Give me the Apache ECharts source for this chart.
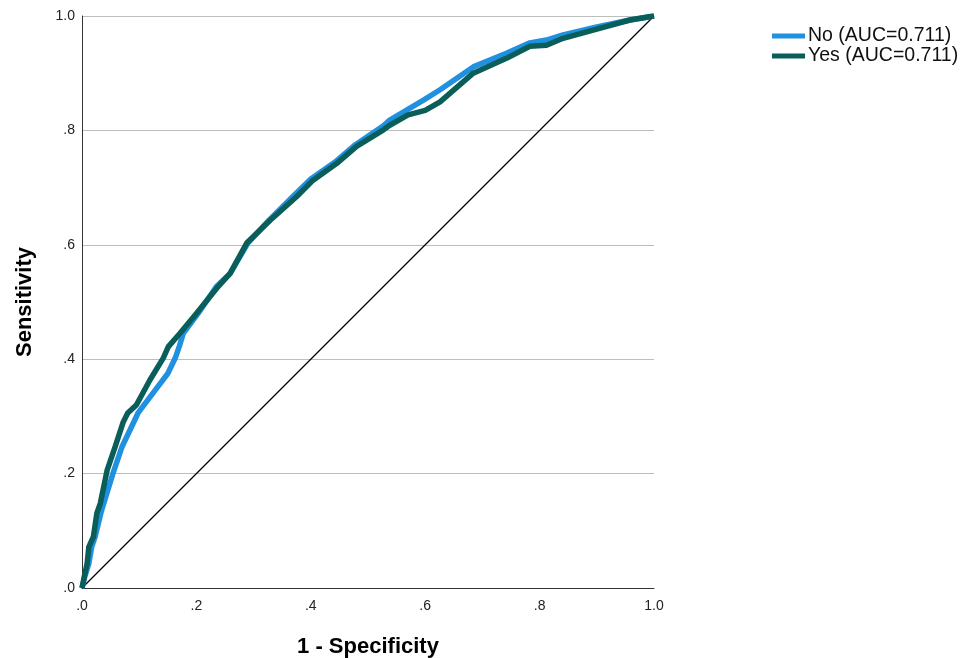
<!DOCTYPE html>
<html>
<head>
<meta charset="utf-8">
<script src="https://cdn.jsdelivr.net/npm/echarts@6/dist/echarts.min.js"></script>
<style>
  html, body { margin: 0; padding: 0; background: #fff; }
  #main { width: 960px; height: 658px; }
</style>
</head>
<body>
<div id="main"></div>
<script>
// ROC 曲线数据 [1 - specificity, sensitivity]
const noCurve = [
  [0, 0], [0.005, 0.02], [0.012, 0.043], [0.017, 0.072], [0.023, 0.090],
  [0.033, 0.131], [0.038, 0.148], [0.054, 0.200], [0.070, 0.247], [0.098, 0.306],
  [0.131, 0.350], [0.150, 0.375], [0.163, 0.402], [0.170, 0.422], [0.177, 0.445],
  [0.203, 0.480], [0.235, 0.527], [0.259, 0.550], [0.290, 0.603], [0.327, 0.643],
  [0.370, 0.686], [0.400, 0.715], [0.443, 0.745], [0.478, 0.775], [0.527, 0.808],
  [0.538, 0.818], [0.597, 0.853], [0.626, 0.871], [0.684, 0.911], [0.742, 0.935],
  [0.783, 0.953], [0.812, 0.958], [0.841, 0.967], [0.900, 0.981], [0.958, 0.993],
  [1, 1]
]
const yesCurve = [
  [0, 0], [0.004, 0.02], [0.009, 0.043], [0.012, 0.072], [0.020, 0.090],
  [0.026, 0.131], [0.032, 0.148], [0.044, 0.206], [0.058, 0.247], [0.072, 0.290],
  [0.080, 0.306], [0.095, 0.320], [0.119, 0.364], [0.142, 0.402], [0.151, 0.422],
  [0.171, 0.445], [0.200, 0.480], [0.238, 0.527], [0.259, 0.550], [0.288, 0.603],
  [0.329, 0.643], [0.375, 0.684], [0.404, 0.713], [0.445, 0.742], [0.480, 0.772],
  [0.527, 0.801], [0.538, 0.809], [0.570, 0.827], [0.600, 0.835], [0.626, 0.850],
  [0.684, 0.900], [0.742, 0.926], [0.783, 0.947], [0.812, 0.949], [0.841, 0.961],
  [0.900, 0.977], [0.958, 0.993], [1, 1]
]
const refLine = [[0, 0], [1, 1]]
const seriesNames = ['No (AUC=0.711)', 'Yes (AUC=0.711)']

const fmt = function (v) {
  if (Math.abs(v - 1) < 1e-9) return '1.0'
  return '.' + Math.round(v * 10)
}

const myChart = echarts.init(document.getElementById('main'))
const font = 'Liberation Sans, Arial, sans-serif'

const option = {
  animation: false,
  textStyle: { fontFamily: font },
  grid: { left: 82, right: 306, top: 16, bottom: 70, outerBoundsMode: 'none', containLabel: false },
  legend: {
    orient: 'vertical',
    left: 767,
    top: 21,
    itemWidth: 33,
    itemHeight: 5,
    itemGap: 0,
    icon: 'rect',
    textStyle: { fontFamily: font, fontSize: 19.5, lineHeight: 18, color: '#111', padding: [0, 0, 0, -2] },
    data: seriesNames
  },
  xAxis: {
    type: 'value',
    min: 0, max: 1, interval: 0.2,
    name: '1 - Specificity',
    nameLocation: 'middle',
    nameGap: 48,
    nameTextStyle: { fontFamily: font, fontSize: 22, fontWeight: 'bold', color: '#000' },
    axisLine: { lineStyle: { color: '#333', width: 1 } },
    axisTick: { show: false },
    axisLabel: { color: '#222', fontSize: 14, margin: 11, formatter: fmt },
    splitLine: { show: false }
  },
  yAxis: {
    type: 'value',
    min: 0, max: 1, interval: 0.2,
    name: 'Sensitivity',
    nameLocation: 'middle',
    nameGap: 46,
    nameTextStyle: { fontFamily: font, fontSize: 22, fontWeight: 'bold', color: '#000' },
    axisLine: { show: true, lineStyle: { color: '#333', width: 1 } },
    axisTick: { show: false },
    axisLabel: { color: '#222', fontSize: 14, margin: 7, formatter: fmt },
    splitLine: { show: true, lineStyle: { color: '#bdbdbd', width: 1 } }
  },
  series: [
    {
      name: 'ref',
      type: 'line',
      data: refLine,
      symbol: 'none',
      silent: true,
      lineStyle: { color: '#000', width: 1.3 },
      z: 1
    },
    {
      name: seriesNames[0],
      type: 'line',
      data: noCurve,
      symbol: 'none',
      color: '#1f91e0',
      lineStyle: { color: '#1f91e0', width: 5.5 },
      z: 2
    },
    {
      name: seriesNames[1],
      type: 'line',
      data: yesCurve,
      symbol: 'none',
      color: '#0a5e5a',
      lineStyle: { color: '#0a5e5a', width: 5.5 },
      z: 3
    }
  ]
}

myChart.setOption(option)
</script>
</body>
</html>
